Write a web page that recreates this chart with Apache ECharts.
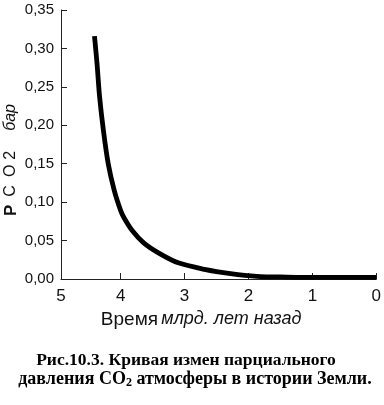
<!DOCTYPE html>
<html>
<head>
<meta charset="utf-8">
<script src="https://cdn.jsdelivr.net/npm/echarts@6/dist/echarts.min.js"></script>
<style>
html,body{margin:0;padding:0;background:#fff;}
#chart{width:384px;height:405px;}
</style>
</head>
<body>
<div id="chart"></div>
<script>
// Time, billions of years ago
var timeGa = [4.41, 4.37, 4.33, 4.27, 4.195, 4.10, 4.0, 3.95, 3.82, 3.64, 3.41, 3.10, 2.69, 2.28, 1.87, 1.4, 0.9, 0.4, 0];
// CO2 partial pressure, bar
var pco2 = [0.316, 0.280, 0.237, 0.193, 0.150, 0.115, 0.089, 0.080, 0.063, 0.047, 0.034, 0.021, 0.0126, 0.007, 0.0035, 0.0025, 0.002, 0.002, 0.002];
var xTickLabels = ['0', '1', '2', '3', '4', '5'];
var xAxisTitle = ['Время', 'млрд. лет назад'];
var yAxisTitle = ['P', 'C', 'O', '2', 'бар'];
var captionLines = ['Рис.10.3. Кривая измен парциального', 'давления CO', '2', ' атмосферы в истории Земли.'];

var chart = echarts.init(document.getElementById('chart'));
var data = timeGa.map(function (t, i) { return [t, pco2[i]]; });
var sans = 'Liberation Sans, Arial, sans-serif';
var serif = 'Liberation Serif, Times New Roman, serif';

chart.setOption({
  backgroundColor: '#fff',
  animation: false,
  grid: { left: 61, right: 2.3, top: 10, bottom: 126, containLabel: false },
  xAxis: {
    type: 'value',
    min: 0,
    max: 4.934,
    interval: 1,
    inverse: true,
    axisLine: { onZero: false, lineStyle: { color: '#222', width: 1 } },
    axisTick: { inside: true, length: 6, lineStyle: { color: '#222' } },
    splitLine: { show: false },
    axisLabel: {
      color: '#111',
      fontFamily: sans,
      fontSize: 17,
      margin: 9,
      showMaxLabel: true,
      formatter: function (v) { return v > 4.5 ? xTickLabels[5] : xTickLabels[Math.round(v)]; }
    },
    name: '{n|' + xAxisTitle[0] + '} {i|' + xAxisTitle[1] + '}',
    nameLocation: 'middle',
    nameGap: 30,
    nameTextStyle: {
      padding: [0, 0, 0, -35],
      rich: {
        n: { fontSize: 19, color: '#111', fontFamily: sans },
        i: { fontSize: 18, color: '#111', fontStyle: 'italic', fontFamily: sans }
      }
    }
  },
  yAxis: {
    type: 'value',
    position: 'left',
    min: 0,
    max: 0.35,
    interval: 0.05,
    axisLine: { show: true, onZero: false, lineStyle: { color: '#222', width: 1 } },
    axisTick: { show: true, inside: true, length: 6, lineStyle: { color: '#222' } },
    splitLine: { show: false },
    axisLabel: {
      color: '#111',
      fontFamily: sans,
      fontSize: 15,
      margin: 7,
      formatter: function (v) { return v.toFixed(2).replace('.', ','); }
    }
  },
  series: [{
    type: 'line',
    data: data,
    smooth: 0.3,
    showSymbol: false,
    lineStyle: { color: '#000', width: 4.8 }
  }],
  graphic: [
    {
      type: 'text',
      x: 11,
      y: 160,
      rotation: Math.PI / 2,
      style: {
        text: '{p|' + yAxisTitle[0] + '}{c1|' + yAxisTitle[1] + '}{c2|' + yAxisTitle[2] + '}{c3|' + yAxisTitle[3] + '}{i|' + yAxisTitle[4] + '}',
        align: 'center',
        verticalAlign: 'middle',
        rich: {
          p: { fontSize: 17, fontWeight: 'bold', fill: '#111', fontFamily: sans, padding: [0, 8, 0, 0] },
          c1: { fontSize: 16, fill: '#111', fontFamily: sans, padding: [0, 8, 0, 0] },
          c2: { fontSize: 16, fill: '#111', fontFamily: sans, padding: [0, 5, 0, 0] },
          c3: { fontSize: 16, fill: '#111', fontFamily: sans, padding: [0, 20, 0, 0] },
          i: { fontSize: 16, fill: '#111', fontStyle: 'italic', fontFamily: sans }
        }
      }
    },
    {
      type: 'text',
      x: 186,
      y: 360,
      style: {
        text: captionLines[0],
        align: 'center',
        verticalAlign: 'middle',
        font: 'bold 17.5px "Liberation Serif", "Times New Roman", serif',
        fill: '#000'
      }
    },
    {
      type: 'text',
      x: 195,
      y: 379,
      style: {
        text: '{t|' + captionLines[1] + '}{s|' + captionLines[2] + '}{t|' + captionLines[3] + '}',
        align: 'center',
        verticalAlign: 'middle',
        rich: {
          t: { fontSize: 18, fontWeight: 'bold', fill: '#000', fontFamily: serif, lineHeight: 19 },
          s: { fontSize: 12, fontWeight: 'bold', fill: '#000', fontFamily: serif, lineHeight: 19, padding: [8, 0, 0, 0] }
        }
      }
    }
  ]
});
</script>
</body>
</html>
